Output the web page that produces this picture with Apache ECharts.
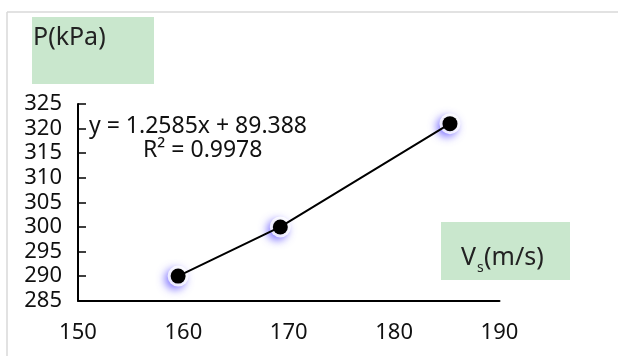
<!DOCTYPE html>
<html>
<head>
<meta charset="utf-8">
<script src="https://cdn.jsdelivr.net/npm/echarts@6/dist/echarts.min.js"></script>
<style>
html,body{margin:0;padding:0;background:#fff;}
#chart{width:618px;height:356px;}
</style>
</head>
<body>
<div id="chart"></div>
<script>
var velocity = [159.5, 169.2, 185.3];
var pressure = [290, 300, 321];
var xTicks = [150, 160, 170, 180, 190];
var yTicks = [285, 290, 295, 300, 305, 310, 315, 320, 325];
var equationText = 'y = 1.2585x + 89.388';
var r2Text = 'R\u00B2 = 0.9978';
var yTitle = 'P(kPa)';

var pts = velocity.map(function (v, i) { return [v, pressure[i]]; });
var FONT = '"Noto Sans", "Open Sans", sans-serif';

var chart = echarts.init(document.getElementById('chart'), null, {renderer: 'canvas'});
chart.setOption({
  animation: false,
  backgroundColor: '#fff',
  grid: {left: 78, right: 118.5, top: 104, bottom: 55.3, containLabel: false},
  xAxis: {
    type: 'value', min: xTicks[0], max: xTicks[xTicks.length - 1], interval: 10,
    axisLine: {lineStyle: {color: '#000', width: 2}},
    axisTick: {show: false},
    splitLine: {show: false},
    axisLabel: {color: '#111', fontSize: 22, fontFamily: FONT, margin: 21}
  },
  yAxis: {
    type: 'value', min: yTicks[0], max: yTicks[yTicks.length - 1], interval: 5,
    axisLine: {show: true, lineStyle: {color: '#000', width: 2}},
    axisTick: {show: true, inside: true, length: 8, lineStyle: {color: '#000', width: 1.5}},
    splitLine: {show: false},
    axisLabel: {color: '#111', fontSize: 22, fontFamily: FONT, margin: 16, lineHeight: 22}
  },
  series: [{
    type: 'scatter',
    data: pts,
    symbol: 'circle',
    symbolSize: 21,
    itemStyle: {color: '#fff', shadowColor: 'rgba(95,80,255,0.95)', shadowBlur: 9, shadowOffsetX: -3, shadowOffsetY: 3},
    z: 2
  }, {
    type: 'line',
    data: pts,
    symbol: 'circle',
    symbolSize: 15,
    lineStyle: {color: '#000', width: 2},
    itemStyle: {color: '#000', borderWidth: 0},
    z: 3
  }],
  graphic: [
    {type: 'line', shape: {x1: 7, y1: 12, x2: 618, y2: 12}, style: {stroke: '#d9d9d9', lineWidth: 1.5}, silent: true},
    {type: 'line', shape: {x1: 7, y1: 12, x2: 7, y2: 356}, style: {stroke: '#d9d9d9', lineWidth: 1.5}, silent: true},
    {type: 'rect', shape: {x: 32, y: 17, width: 122, height: 67}, style: {fill: '#c9e7cd'}, silent: true},
    {type: 'text', left: 33, top: 25, style: {text: yTitle, fontSize: 25, fontFamily: FONT, fill: '#222'}, silent: true},
    {type: 'rect', shape: {x: 441, y: 222, width: 129, height: 58}, style: {fill: '#c9e7cd'}, silent: true},
    {type: 'text', left: 461, top: 245, style: {text: 'V', fontSize: 25, fontFamily: FONT, fill: '#222'}, silent: true},
    {type: 'text', left: 477, top: 261, style: {text: 's', fontSize: 14, fontFamily: FONT, fill: '#222'}, silent: true},
    {type: 'text', left: 484, top: 245, style: {text: '(m/s)', fontSize: 25, fontFamily: FONT, fill: '#222'}, silent: true},
    {type: 'text', left: 89, top: 115, style: {text: equationText, fontSize: 23, fontFamily: FONT, fill: '#111'}, silent: true},
    {type: 'text', left: 143, top: 139, style: {text: r2Text, fontSize: 23, fontFamily: FONT, fill: '#111'}, silent: true}
  ]
});
</script>
</body>
</html>
